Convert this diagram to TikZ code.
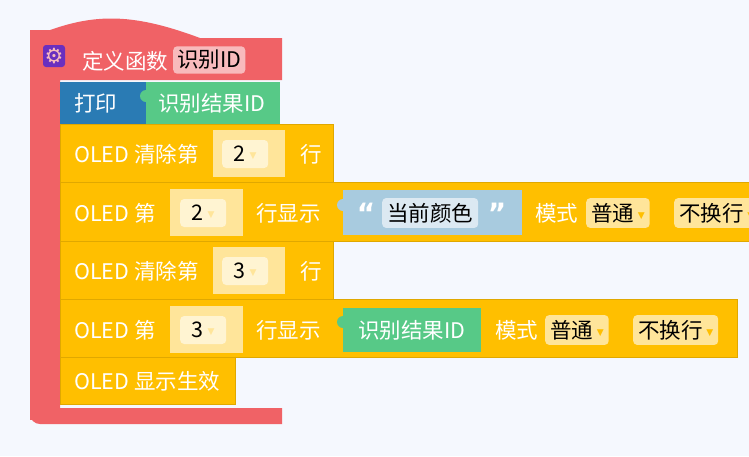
\documentclass[tikz,border=0pt]{standalone}
\usepackage{fontspec}
\setmainfont{Noto Sans CJK SC}
\newfontfamily\symfont{DejaVu Sans}
\definecolor{bg}{HTML}{F5F8FE}
\definecolor{fred}{HTML}{F06266}
\definecolor{fpink}{HTML}{F8BABC}
\definecolor{pblue}{HTML}{2A7BB4}
\definecolor{rgreen}{HTML}{57C987}
\definecolor{oyel}{HTML}{FFBF00}
\definecolor{oedge}{HTML}{E0A800}
\definecolor{slot}{HTML}{FFE59A}
\definecolor{numbox}{HTML}{FFF4D2}
\definecolor{tblue}{HTML}{A8CBDF}
\definecolor{tfield}{HTML}{DCE9F2}
\definecolor{gear}{HTML}{6A2FBF}
\newcommand{\dd}[1]{\,\raisebox{3pt}{\symfont\fontsize{9}{9}\selectfont\textcolor{#1}{▼}}}
\tikzset{
  lbl/.style={text=white, font=\fontsize{21.5}{21.5}\selectfont, inner sep=0pt, anchor=west},
  quote/.style={text=white, font=\symfont\bfseries\fontsize{28}{28}\selectfont, inner sep=0pt},
  oled/.style={fill=oyel, draw=oedge, line width=0.8pt},
  drop/.style={fill=slot, rounded corners=4pt, minimum height=25pt, inner sep=5pt,
    font=\fontsize{21.5}{21.5}\selectfont, anchor=west},
  num/.style={fill=numbox, rounded corners=4pt, minimum width=46pt, minimum height=28pt,
    font=\fontsize{21.5}{21.5}\selectfont, anchor=west, inner sep=3pt}
}
\begin{document}
\begin{tikzpicture}[x=1pt,y=-1pt]
  \useasboundingbox (0,0) rectangle (749,456);
  \clip (0,0) rectangle (749,456);
  \fill[bg] (0,0) rectangle (749,456);
  % function hat
  \fill[fred] (30,80) -- (30,38) .. controls (90,12) and (130,12) .. (200,38) -- (282,38)
    -- (282,80) -- (60,80) -- (60,408) -- (282,408) -- (282,424) -- (40,424)
    [rounded corners=10pt] -- (30,424) -- (30,80) -- cycle;
  \fill[fred] (30,30) rectangle (60,420);
  \node[fill=gear, rounded corners=3pt, minimum size=22pt, inner sep=0pt, text=fpink,
    font=\symfont\fontsize{21}{21}\selectfont] (gear) at (54,56) {⚙};
  \node[lbl] (deftxt) at (82,61) {定义函数};
  \node[fill=fpink, rounded corners=4pt, minimum height=26pt, inner sep=4pt,
    font=\fontsize{21.5}{21.5}\selectfont, anchor=west] (fname) at (173,60) {识别ID};
  % print block
  \fill[pblue] (60,82) rectangle (146,124);
  \node[lbl] (print) at (74,103) {打印};
  \fill[rgreen] (146,82) rectangle (280,124);
  \fill[rgreen] (146,96) circle (6);
  \node[lbl] (pval) at (158,103) {识别结果ID};
  % OLED blocks
  \draw[oled] (60,124) rectangle (333,182);
  \draw[oled] (60,182) rectangle (760,241);
  \draw[oled] (60,241) rectangle (333,299);
  \draw[oled] (60,299) rectangle (737,357);
  \draw[oled] (60,357) rectangle (235,404);
  % row 1
  \node[lbl] (c1) at (74,154) {OLED 清除第};
  \fill[slot] (213,130) rectangle (285,177);
  \node[num] (n1) at (222,154) {2\dd{slot}};
  \node[lbl] (r1) at (300,154) {行};
  % row 2
  \node[lbl] (s1) at (74,213) {OLED 第};
  \fill[slot] (170,189) rectangle (243,236);
  \node[num] (n2) at (180,213) {2\dd{slot}};
  \node[lbl] (d1) at (256,213) {行显示};
  \fill[tblue] (343,190) rectangle (522,235);
  \fill[tblue] (343,205) circle (6);
  \node[quote] (q1) at (366,213) {“};
  \node[fill=tfield, rounded corners=4pt, minimum height=26pt, inner sep=5pt,
    font=\fontsize{21.5}{21.5}\selectfont, anchor=west] (txt) at (382,213) {当前颜色};
  \node[quote] (q2) at (497,213) {”};
  \node[lbl] (m1) at (535,213) {模式};
  \node[drop] (p1) at (586,213) {普通\dd{oyel}};
  \node[drop] (w1) at (674,213) {不换行\dd{oyel}};
  % row 3
  \node[lbl] (c2) at (74,271) {OLED 清除第};
  \fill[slot] (213,247) rectangle (285,294);
  \node[num] (n3) at (222,271) {3\dd{slot}};
  \node[lbl] (r2) at (300,271) {行};
  % row 4
  \node[lbl] (s2) at (74,330) {OLED 第};
  \fill[slot] (170,306) rectangle (243,353);
  \node[num] (n4) at (180,330) {3\dd{slot}};
  \node[lbl] (d2) at (256,330) {行显示};
  \fill[rgreen] (343,308) rectangle (481,352);
  \fill[rgreen] (343,322) circle (6);
  \node[lbl] (rid) at (358,330) {识别结果ID};
  \node[lbl] (m2) at (495,330) {模式};
  \node[drop] (p2) at (545,330) {普通\dd{oyel}};
  \node[drop] (w2) at (633,330) {不换行\dd{oyel}};
  % row 5
  \node[lbl] (show) at (74,381) {OLED 显示生效};
\end{tikzpicture}
\end{document}
